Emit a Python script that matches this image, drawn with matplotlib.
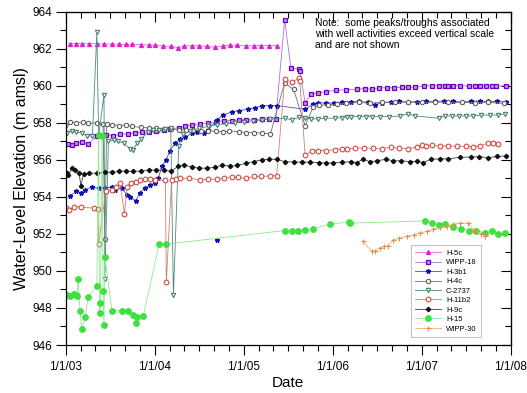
import matplotlib
matplotlib.use("Agg")
import matplotlib.pyplot as plt
from matplotlib.ticker import MultipleLocator, FixedLocator

plt.rcParams['font.family'] = ['Liberation Sans', 'DejaVu Sans']

year_ticks = [2003, 2004, 2005, 2006, 2007, 2008]
year_labels = ['1/1/03', '1/1/04', '1/1/05', '1/1/06', '1/1/07', '1/1/08']

h5c_x = [2003.05, 2003.12, 2003.18, 2003.26, 2003.35, 2003.43, 2003.52, 2003.60, 2003.68, 2003.75,
         2003.85, 2003.94, 2004.00, 2004.09, 2004.18, 2004.26, 2004.33, 2004.42, 2004.50, 2004.59,
         2004.68, 2004.77, 2004.85, 2004.92, 2005.03, 2005.11, 2005.19, 2005.28, 2005.37]
h5c_y = [962.28, 962.28, 962.28, 962.27, 962.27, 962.26, 962.25, 962.24, 962.24, 962.23,
         962.22, 962.20, 962.20, 962.15, 962.12, 962.06, 962.15, 962.17, 962.16, 962.12,
         962.08, 962.16, 962.19, 962.19, 962.15, 962.16, 962.17, 962.17, 962.17]

wipp18_x = [2003.03, 2003.07, 2003.12, 2003.18, 2003.25, 2003.35, 2003.45, 2003.53, 2003.61, 2003.70,
            2003.78, 2003.86, 2003.94, 2004.02, 2004.10, 2004.17, 2004.27, 2004.34, 2004.42, 2004.51,
            2004.60, 2004.69, 2004.78, 2004.87, 2004.95, 2005.03, 2005.11, 2005.20, 2005.28, 2005.36,
            2005.46, 2005.53, 2005.62, 2005.63, 2005.69, 2005.76, 2005.84, 2005.92, 2006.04, 2006.15,
            2006.27, 2006.36, 2006.44, 2006.52, 2006.61, 2006.69, 2006.78, 2006.85, 2006.92, 2007.03,
            2007.11, 2007.19, 2007.26, 2007.30, 2007.35, 2007.43, 2007.53, 2007.60, 2007.66, 2007.72,
            2007.79, 2007.84, 2007.95]
wipp18_y = [956.86, 956.80, 956.90, 956.95, 956.86, 957.26, 957.35, 957.30, 957.37, 957.40,
            957.45, 957.50, 957.50, 957.54, 957.62, 957.66, 957.74, 957.80, 957.89, 957.95,
            957.98, 958.02, 958.12, 958.12, 958.16, 958.16, 958.16, 958.20, 958.22, 958.22,
            963.55, 960.96, 960.90, 960.80, 959.09, 959.54, 959.61, 959.67, 959.76, 959.78,
            959.81, 959.85, 959.81, 959.90, 959.88, 959.90, 959.92, 959.92, 959.92, 959.99,
            959.99, 960.01, 960.01, 960.01, 960.00, 960.00, 959.98, 960.00, 960.00, 960.00,
            960.01, 959.98, 960.00]

h3b1_x = [2003.05, 2003.12, 2003.17, 2003.22, 2003.29, 2003.37, 2003.44, 2003.52, 2003.55, 2003.63,
          2003.69, 2003.72, 2003.79, 2003.83, 2003.89, 2003.95, 2004.00, 2004.04, 2004.08, 2004.13,
          2004.17, 2004.23, 2004.28, 2004.34, 2004.42, 2004.47, 2004.55, 2004.60, 2004.70, 2004.77,
          2004.87, 2004.95, 2005.05, 2005.13, 2005.20, 2005.30, 2005.37, 2005.69, 2005.78, 2005.84,
          2005.93, 2006.02, 2006.10, 2006.20, 2006.30, 2006.40, 2006.48, 2006.55, 2006.65, 2006.75,
          2006.85, 2006.95, 2007.05, 2007.15, 2007.25, 2007.35, 2007.45, 2007.55, 2007.65, 2007.75,
          2007.85, 2007.95]
h3b1_y = [954.07, 954.29, 954.23, 954.38, 954.52, 954.47, 954.50, 954.52, 954.38, 954.47,
          954.10, 954.00, 953.78, 954.20, 954.47, 954.65, 954.74, 955.00, 955.64, 956.00,
          956.50, 956.90, 957.11, 957.22, 957.44, 957.52, 957.47, 957.60, 958.16, 958.42,
          958.60, 958.66, 958.73, 958.82, 958.91, 958.93, 958.93, 958.73, 959.00, 959.09,
          959.05, 959.08, 959.10, 959.12, 959.15, 959.10, 958.98, 959.08, 959.12, 959.15,
          959.12, 959.13, 959.15, 959.15, 959.18, 959.15, 959.12, 959.15, 959.18, 959.15,
          959.15, 959.12]
h3b1_lone_x = [2004.70]
h3b1_lone_y = [951.68]

h4c_x = [2003.05, 2003.12, 2003.19, 2003.25, 2003.35, 2003.42, 2003.44, 2003.46, 2003.52, 2003.60,
         2003.68, 2003.75, 2003.85, 2003.94, 2004.02, 2004.10, 2004.18, 2004.27, 2004.35, 2004.43,
         2004.52, 2004.60, 2004.69, 2004.77, 2004.84, 2004.95, 2005.03, 2005.11, 2005.20, 2005.30,
         2005.46, 2005.56, 2005.69, 2005.78, 2005.85, 2005.95, 2006.05, 2006.15, 2006.30, 2006.42,
         2006.55, 2006.70, 2006.85, 2007.00, 2007.15, 2007.30, 2007.45, 2007.60, 2007.75, 2007.92]
h4c_y = [958.03, 958.00, 958.03, 957.99, 957.98, 957.93, 951.70, 957.92, 957.90, 957.85,
         957.88, 957.80, 957.76, 957.72, 957.70, 957.68, 957.65, 957.62, 957.62, 957.60,
         957.56, 957.56, 957.56, 957.50, 957.56, 957.52, 957.47, 957.47, 957.45, 957.40,
         960.17, 959.80, 957.85, 958.84, 958.95, 958.98, 959.00, 959.05, 959.10, 959.05,
         959.12, 959.10, 959.12, 959.10, 959.12, 959.10, 959.10, 959.08, 959.10, 959.05]

c2737_x = [2003.00, 2003.02, 2003.07, 2003.12, 2003.18, 2003.24, 2003.30, 2003.35, 2003.37, 2003.43,
           2003.44, 2003.48, 2003.54, 2003.59, 2003.65, 2003.72, 2003.76, 2003.80, 2003.85, 2003.92,
           2003.98, 2004.05, 2004.12, 2004.18, 2004.21, 2004.27, 2004.32, 2004.40, 2004.50, 2004.60,
           2004.70, 2004.80, 2004.90, 2005.00, 2005.10, 2005.20, 2005.30, 2005.46, 2005.54, 2005.62,
           2005.69, 2005.76, 2005.84, 2005.91, 2006.03, 2006.10, 2006.16, 2006.20, 2006.29, 2006.37,
           2006.44, 2006.53, 2006.63, 2006.76, 2006.85, 2006.92, 2007.19, 2007.26, 2007.34, 2007.42,
           2007.50, 2007.58, 2007.67, 2007.77, 2007.86, 2007.94]
c2737_y = [957.83, 957.45, 957.55, 957.50, 957.45, 957.30, 957.28, 962.90, 957.30, 959.50,
           949.56, 957.00, 957.05, 957.00, 956.90, 956.60, 956.55, 956.90, 957.10, 957.50,
           957.60, 957.60, 957.65, 957.70, 948.70, 956.75, 957.40, 957.55, 957.70, 957.80,
           957.90, 957.95, 958.00, 958.05, 958.10, 958.15, 958.20, 958.25, 958.16, 958.30,
           958.25, 958.21, 958.21, 958.25, 958.25, 958.28, 958.33, 958.33, 958.33, 958.33,
           958.33, 958.33, 958.33, 958.37, 958.48, 958.37, 958.25, 958.37, 958.37, 958.37,
           958.37, 958.37, 958.42, 958.42, 958.42, 958.48]

h11b2_x = [2003.00, 2003.04, 2003.09, 2003.17, 2003.32, 2003.36, 2003.37, 2003.45, 2003.52, 2003.57,
           2003.61, 2003.66, 2003.69, 2003.73, 2003.79, 2003.83, 2003.89, 2003.95, 2004.00, 2004.12,
           2004.13, 2004.19, 2004.24, 2004.28, 2004.38, 2004.51, 2004.60, 2004.70, 2004.78, 2004.87,
           2004.94, 2005.03, 2005.12, 2005.19, 2005.30, 2005.37, 2005.46, 2005.54, 2005.62, 2005.63,
           2005.69, 2005.77, 2005.84, 2005.93, 2006.03, 2006.10, 2006.16, 2006.25, 2006.35, 2006.45,
           2006.55, 2006.65, 2006.75, 2006.85, 2006.95, 2007.00, 2007.05, 2007.12, 2007.20, 2007.30,
           2007.40, 2007.50, 2007.58, 2007.65, 2007.75, 2007.80, 2007.86]
h11b2_y = [953.39, 953.30, 953.45, 953.45, 953.39, 953.36, 951.45, 954.30, 954.38, 954.55,
           954.74, 953.10, 954.52, 954.77, 954.82, 954.92, 954.97, 954.95, 954.92, 954.90,
           949.38, 954.92, 954.95, 955.00, 955.00, 954.92, 954.95, 954.95, 955.00, 955.06,
           955.05, 955.00, 955.10, 955.10, 955.13, 955.15, 960.35, 960.20, 960.40, 960.26,
           956.27, 956.48, 956.50, 956.50, 956.55, 956.60, 956.60, 956.62, 956.65, 956.62,
           956.60, 956.68, 956.62, 956.60, 956.70, 956.80, 956.75, 956.78, 956.75, 956.75,
           956.72, 956.72, 956.70, 956.75, 956.90, 956.92, 956.88]

h9c_x = [2003.01, 2003.03, 2003.07, 2003.10, 2003.15, 2003.17, 2003.20, 2003.26, 2003.35, 2003.44,
         2003.52, 2003.60, 2003.68, 2003.76, 2003.85, 2003.94, 2004.02, 2004.10, 2004.18, 2004.26,
         2004.33, 2004.42, 2004.50, 2004.59, 2004.68, 2004.76, 2004.85, 2004.93, 2005.03, 2005.11,
         2005.20, 2005.28, 2005.37, 2005.46, 2005.56, 2005.65, 2005.75, 2005.85, 2005.93, 2006.00,
         2006.10, 2006.20, 2006.27, 2006.34, 2006.42, 2006.50, 2006.60, 2006.68, 2006.77, 2006.87,
         2006.95, 2007.02, 2007.10, 2007.20, 2007.30, 2007.43, 2007.55, 2007.64, 2007.75, 2007.85,
         2007.95]
h9c_y = [955.31, 955.20, 955.55, 955.45, 955.30, 954.60, 955.25, 955.28, 955.28, 955.33,
         955.33, 955.37, 955.40, 955.37, 955.40, 955.46, 955.43, 955.46, 955.37, 955.64,
         955.73, 955.60, 955.55, 955.55, 955.60, 955.73, 955.65, 955.70, 955.82, 955.90,
         956.00, 956.03, 956.03, 955.90, 955.88, 955.88, 955.87, 955.85, 955.82, 955.84,
         955.86, 955.90, 955.85, 956.03, 955.90, 955.95, 956.03, 955.95, 955.95, 955.90,
         955.92, 955.85, 956.03, 956.05, 956.05, 956.14, 956.15, 956.17, 956.12, 956.18,
         956.21]

h15_x = [2003.01, 2003.05, 2003.09, 2003.12, 2003.13, 2003.14, 2003.16, 2003.18, 2003.22, 2003.25,
         2003.35, 2003.37, 2003.38, 2003.39, 2003.41, 2003.42, 2003.43, 2003.44, 2003.52, 2003.63,
         2003.70, 2003.76, 2003.79, 2003.80, 2003.87, 2004.05, 2004.13, 2005.46, 2005.54, 2005.61,
         2005.69, 2005.78, 2005.97, 2006.18, 2006.19, 2007.04, 2007.11, 2007.19, 2007.26, 2007.35,
         2007.44, 2007.53, 2007.61, 2007.71, 2007.79, 2007.86, 2007.94]
h15_y = [948.71, 948.66, 948.77, 948.70, 948.66, 949.56, 947.86, 946.86, 947.50, 948.58,
         949.19, 957.35, 947.72, 948.26, 957.30, 948.89, 947.09, 950.73, 947.86, 947.86,
         947.81, 947.63, 947.21, 947.50, 947.54, 951.45, 951.45, 952.18, 952.18, 952.18,
         952.22, 952.26, 952.54, 952.63, 952.58, 952.70, 952.61, 952.49, 952.51, 952.37,
         952.26, 952.18, 952.13, 952.07, 952.18, 952.00, 952.04]

wipp30_x = [2006.34, 2006.44, 2006.48, 2006.53, 2006.58, 2006.62, 2006.68, 2006.75, 2006.83, 2006.91,
            2006.98, 2007.06, 2007.13, 2007.21, 2007.28, 2007.35, 2007.43, 2007.52, 2007.58, 2007.62,
            2007.67, 2007.71]
wipp30_y = [951.59, 951.05, 951.10, 951.23, 951.32, 951.36, 951.68, 951.77, 951.86, 951.95,
            952.07, 952.13, 952.26, 952.37, 952.43, 952.53, 952.58, 952.58, 952.22, 952.13,
            952.00, 951.90]

fig = plt.figure(figsize=(5.27, 3.93), dpi=100)
ax = fig.add_axes([0.1247, 0.1221, 0.8444, 0.8482])

lw = 0.6
ax.plot(h5c_x, h5c_y, color='#f060e0', lw=lw, marker='^', ms=2.8, mfc='#e020d0', mec='#e020d0', label='H-5c')
ax.plot(wipp18_x, wipp18_y, color='#b070e0', lw=lw, marker='s', ms=2.9, mfc='#c090f0', mec='#7000c0', mew=0.9, label='WIPP-18')
ax.plot(h3b1_x, h3b1_y, color='#4050c0', lw=lw, marker='*', ms=3.4, mfc='#1010b0', mec='#1010b0', label='H-3b1')
ax.plot(h3b1_lone_x, h3b1_lone_y, ls='none', marker='*', ms=3.4, mfc='#1010b0', mec='#1010b0')
ax.plot(h4c_x, h4c_y, color='#707070', lw=lw, marker='o', ms=3.1, mfc='white', mec='#606060', mew=0.8, label='H-4c')
ax.plot(c2737_x, c2737_y, color='#4a8a80', lw=lw, marker='v', ms=3.1, mfc='white', mec='#4a8070', mew=0.8, label='C-2737')
ax.plot(h11b2_x, h11b2_y, color='#d08070', lw=lw, marker='o', ms=3.4, mfc='white', mec='#d04a40', mew=0.8, label='H-11b2')
ax.plot(h9c_x, h9c_y, color='#404040', lw=lw, marker='D', ms=2.2, mfc='#101010', mec='#101010', label='H-9c')
ax.plot(h15_x, h15_y, color='#90e890', lw=lw, marker='o', ms=3.9, mfc='#40e040', mec='#40e040', label='H-15')
ax.plot(wipp30_x, wipp30_y, color='#f0b070', lw=lw, marker='+', ms=3.6, mec='#e09050', mew=0.8, label='WIPP-30')

ax.set_xlim(2003, 2008)
ax.set_ylim(946, 964)
ax.xaxis.set_major_locator(FixedLocator(year_ticks))
ax.set_xticklabels(year_labels)
ax.xaxis.set_minor_locator(MultipleLocator(1 / 6))
ax.yaxis.set_major_locator(MultipleLocator(2))
ax.yaxis.set_minor_locator(MultipleLocator(1))
ax.tick_params(axis='both', which='major', labelsize=8.5, direction='out', length=7.5, width=0.8)
ax.tick_params(axis='x', which='major', pad=4)
ax.tick_params(axis='y', which='major', pad=2)
ax.tick_params(axis='both', which='minor', direction='out', length=4, width=0.8)
sec_x = ax.secondary_xaxis('top')
sec_x.xaxis.set_major_locator(FixedLocator(year_ticks))
sec_x.xaxis.set_minor_locator(MultipleLocator(1 / 6))
sec_x.tick_params(which='major', direction='in', length=7.5, width=0.8, labeltop=False)
sec_x.tick_params(which='minor', direction='in', length=4, width=0.8)
sec_y = ax.secondary_yaxis('right')
sec_y.yaxis.set_major_locator(MultipleLocator(2))
sec_y.yaxis.set_minor_locator(MultipleLocator(1))
sec_y.tick_params(which='major', direction='in', length=7.5, width=0.8, labelright=False)
sec_y.tick_params(which='minor', direction='in', length=4, width=0.8)
for s in ax.spines.values():
    s.set_linewidth(0.9)

ax.set_xlabel('Date', fontsize=11, labelpad=2)
ax.set_ylabel('Water-Level Elevation (m amsl)', fontsize=11.5, labelpad=3)

ax.text(0.56, 0.98, 'Note:  some peaks/troughs associated\nwith well activities exceed vertical scale\nand are not shown',
        transform=ax.transAxes, fontsize=7.4, va='top', ha='left', linespacing=1.1)

leg = ax.legend(loc='lower right', bbox_to_anchor=(0.942, 0.012), fontsize=5.5, frameon=True,
                fancybox=False, edgecolor='#a0a0a0', handlelength=3.4, labelspacing=0.28,
                borderpad=0.6, handletextpad=0.6)
leg.get_frame().set_linewidth(0.6)

fig.savefig('out.png', dpi=100)
